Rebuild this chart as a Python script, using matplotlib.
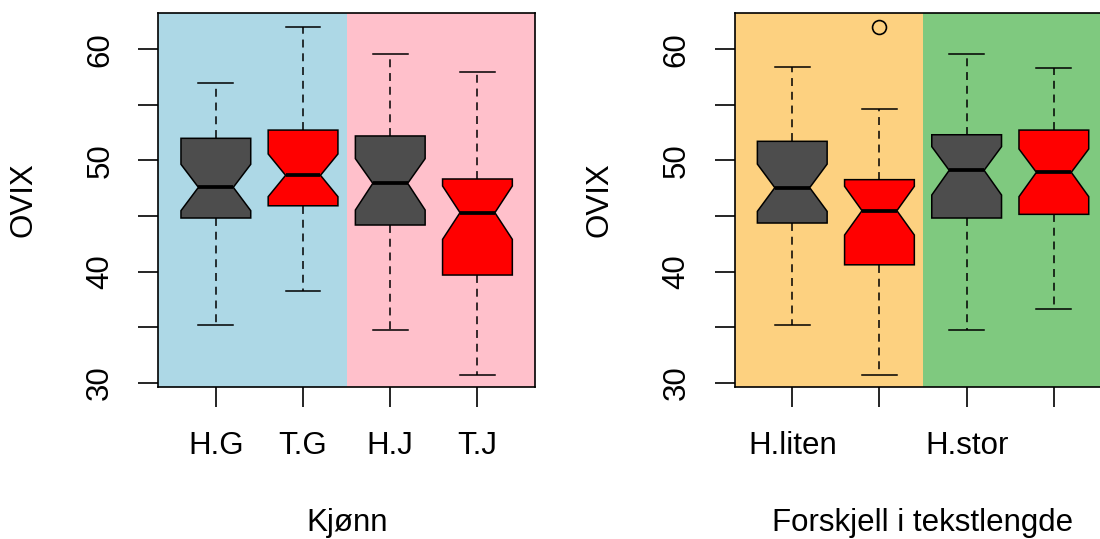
import matplotlib
matplotlib.use("Agg")
import matplotlib.pyplot as plt
from matplotlib.patches import Rectangle

plt.rcParams["font.family"] = ["Liberation Sans", "DejaVu Sans"]

# ---- data: five-number summaries with notch limits ----
kjonn_labels = ["H.G", "T.G", "H.J", "T.J"]
kjonn_whislo = [35.19, 38.28, 34.75, 30.72]
kjonn_q1 = [44.82, 45.92, 44.19, 39.69]
kjonn_med = [47.58, 48.66, 47.94, 45.30]
kjonn_q3 = [51.99, 52.73, 52.20, 48.33]
kjonn_whishi = [56.94, 62.04, 59.61, 57.96]
kjonn_cilo = [45.48, 46.74, 45.54, 42.90]
kjonn_cihi = [49.65, 50.58, 50.16, 47.70]
kjonn_fliers = [[], [], [], []]

lengde_labels = ["H.liten", "T.liten", "H.stor", "T.stor"]
lengde_shown = ["H.liten", "", "H.stor", ""]
lengde_whislo = [35.19, 30.72, 34.75, 36.66]
lengde_q1 = [44.37, 40.61, 44.82, 45.15]
lengde_med = [47.55, 45.48, 49.11, 48.93]
lengde_q3 = [51.72, 48.27, 52.31, 52.73]
lengde_whishi = [58.43, 54.65, 59.61, 58.29]
lengde_cilo = [45.42, 43.29, 46.89, 46.74]
lengde_cihi = [49.67, 47.67, 51.24, 51.03]
lengde_fliers = [[], [61.98], [], []]

box_colors = ["#4D4D4D", "#FF0000", "#4D4D4D", "#FF0000"]
y_ticks = [30, 35, 40, 45, 50, 55, 60]
y_ticklabels = ["30", "", "40", "", "50", "", "60"]

FS = 22.5
LW = 1.1
W, H = 1100, 539
fig = plt.figure(figsize=(W / 100, H / 100), dpi=100)

ax_w = 376.7 / W
ax_h = 374.6 / H
ax_b = (H - 387.3) / H
ax1 = fig.add_axes([158.3 / W, ax_b, ax_w, ax_h])
ax2 = fig.add_axes([734.7 / W, ax_b, ax_w, ax_h])

XLIM = (0.34, 4.66)
YLIM = (29.59, 63.29)


def build_stats(labels, wlo, q1, med, q3, whi, cilo, cihi, fliers):
    return [
        dict(label=labels[i], whislo=wlo[i], q1=q1[i], med=med[i], q3=q3[i],
             whishi=whi[i], cilo=cilo[i], cihi=cihi[i], fliers=fliers[i])
        for i in range(len(labels))
    ]


def draw_panel(ax, stats, bg, tick_text, xlabel):
    ax.set_xlim(*XLIM)
    ax.set_ylim(*YLIM)
    ax.add_patch(Rectangle((XLIM[0], YLIM[0]), 2.5 - XLIM[0], YLIM[1] - YLIM[0],
                           facecolor=bg[0], edgecolor="none", zorder=0))
    ax.add_patch(Rectangle((2.5, YLIM[0]), XLIM[1] - 2.5, YLIM[1] - YLIM[0],
                           facecolor=bg[1], edgecolor="none", zorder=0))
    bp = ax.bxp(
        stats, positions=[1, 2, 3, 4], widths=0.8, shownotches=True,
        patch_artist=True, showfliers=True,
        boxprops=dict(edgecolor="black", linewidth=LW),
        medianprops=dict(color="black", linewidth=2.7, solid_capstyle="butt"),
        whiskerprops=dict(color="black", linewidth=LW, linestyle=(0, (5.2, 3.8))),
        capprops=dict(color="black", linewidth=LW),
        flierprops=dict(marker="o", markersize=10, markerfacecolor="none",
                        markeredgecolor="black", markeredgewidth=1.2),
    )
    for patch, c in zip(bp["boxes"], box_colors):
        patch.set_facecolor(c)
        patch.set_zorder(3)
    for ln in bp["medians"]:
        ln.set_zorder(4)

    ax.set_xticks([1, 2, 3, 4])
    ax.set_xticklabels(tick_text, fontsize=FS, va="center")
    ax.set_yticks(y_ticks)
    ax.set_yticklabels(y_ticklabels, fontsize=FS, rotation=90,
                       va="center", ha="center")
    ax.tick_params(axis="both", length=14.4, width=1.2, color="black")
    ax.tick_params(axis="x", pad=28)
    ax.tick_params(axis="y", pad=27.4)
    for s in ax.spines.values():
        s.set_linewidth(1.2)
        s.set_zorder(5)

    ax.annotate(xlabel, xy=(0.5, 0), xycoords="axes fraction",
                xytext=(0, -97.5), textcoords="offset points",
                ha="center", va="center", fontsize=FS)
    ax.annotate("OVIX", xy=(0, 0.5), xycoords="axes fraction",
                xytext=(-97.2, 0), textcoords="offset points",
                ha="center", va="center", rotation=90, fontsize=FS)


stats1 = build_stats(kjonn_labels, kjonn_whislo, kjonn_q1, kjonn_med, kjonn_q3,
                     kjonn_whishi, kjonn_cilo, kjonn_cihi, kjonn_fliers)
stats2 = build_stats(lengde_labels, lengde_whislo, lengde_q1, lengde_med, lengde_q3,
                     lengde_whishi, lengde_cilo, lengde_cihi, lengde_fliers)

draw_panel(ax1, stats1, ("#ADD8E6", "#FFC0CB"), kjonn_labels, "Kjønn")
draw_panel(ax2, stats2, ("#FDD180", "#7FC97F"), lengde_shown,
           "Forskjell i tekstlengde")

fig.savefig("out.png", dpi=100)
